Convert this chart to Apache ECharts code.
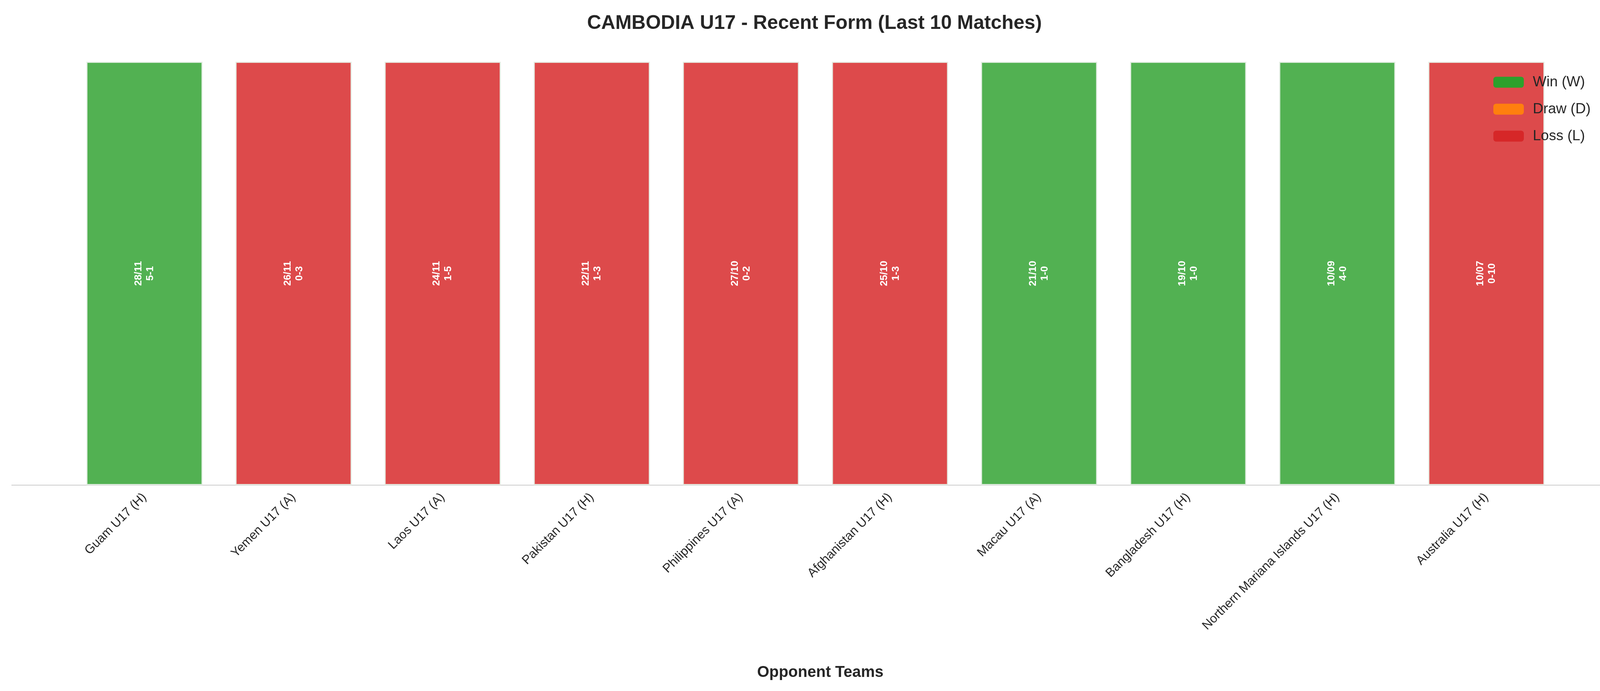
<!DOCTYPE html>
<html><head><meta charset="utf-8">
<script src="https://cdn.jsdelivr.net/npm/echarts@6/dist/echarts.min.js"></script>
<style>html,body{margin:0;padding:0;background:#fff}#c{width:4170px;height:1769px}</style>
</head><body><div id="c"></div>
<script>
const opponents = ["Guam U17 (H)","Yemen U17 (A)","Laos U17 (A)","Pakistan U17 (H)","Philippines U17 (A)","Afghanistan U17 (H)","Macau U17 (A)","Bangladesh U17 (H)","Northern Mariana Islands U17 (H)","Australia U17 (H)"];
const results = ["W","L","L","L","L","L","W","W","W","L"];
const dates = ["28/11","26/11","24/11","22/11","27/10","25/10","21/10","19/10","10/09","10/07"];
const scores = ["5-1","0-3","1-5","1-3","0-2","1-3","1-0","1-0","4-0","0-10"];

const base = {W:'#2ca02c', D:'#ff7f0e', L:'#d62728'};
const fill = {W:'rgba(44,160,44,0.82)', D:'rgba(255,127,14,0.82)', L:'rgba(214,39,40,0.84)'};
const names = {W:'Win (W)', D:'Draw (D)', L:'Loss (L)'};

function seriesFor(k){
  return {
    name:names[k], type:'bar', xAxisIndex:1, yAxisIndex:1, barWidth:'78%', barGap:'-100%',
    itemStyle:{color:fill[k], borderColor:'rgba(230,240,230,0.9)', borderWidth:3},
    label:{show:true, position:'inside', rotate:90, color:'#fff', fontWeight:'bold', fontSize:26,
      fontFamily:'Liberation Sans, Arial', lineHeight:30,
      formatter:p=>dates[p.dataIndex]+'\n'+scores[p.dataIndex]},
    data: results.map(r=> r===k ? 1 : null)
  };
}
const series = ['W','D','L'].map(seriesFor);

const chart = echarts.init(document.getElementById('c'));
chart.setOption({
  animation:false,
  backgroundColor:'#fff',
  textStyle:{fontFamily:'Liberation Sans, Arial'},
  title:{text:'CAMBODIA U17 - Recent Form (Last 10 Matches)', left:'center', top:30,
    textStyle:{fontSize:50, fontWeight:'bold', color:'#262626', fontFamily:'Liberation Sans, Arial'}},
  legend:{orient:'vertical', left:3818, top:187, itemWidth:78, itemHeight:28, itemGap:32,
    textStyle:{fontSize:37, color:'#262626', padding:[0,0,0,18]},
    data:[{name:'Win (W)', itemStyle:{color:base.W, borderWidth:0, borderRadius:0}},
          {name:'Draw (D)', itemStyle:{color:base.D, borderWidth:0, borderRadius:0}},
          {name:'Loss (L)', itemStyle:{color:base.L, borderWidth:0, borderRadius:0}}]},
  grid:[{left:30, right:0, top:158, bottom:527},
        {left:179, right:174, top:158, bottom:527}],
  xAxis:[
    {gridIndex:0, type:'value', min:0, max:1, axisLine:{show:true, lineStyle:{color:'#cccccc', width:2}},
      axisTick:{show:false}, axisLabel:{show:false}, splitLine:{show:false},
      name:'Opponent Teams', nameLocation:'middle', nameGap:460,
      nameTextStyle:{fontSize:40, fontWeight:'bold', color:'#262626'}},
    {gridIndex:1, type:'category', data:opponents, axisLine:{show:false}, axisTick:{show:false},
      axisLabel:{rotate:45, fontSize:32, color:'#262626', margin:26, interval:0}}
  ],
  yAxis:[
    {gridIndex:0, type:'value', min:0, max:1, show:false},
    {gridIndex:1, type:'value', min:0, max:1, show:false}
  ],
  series: series
});
</script></body></html>
